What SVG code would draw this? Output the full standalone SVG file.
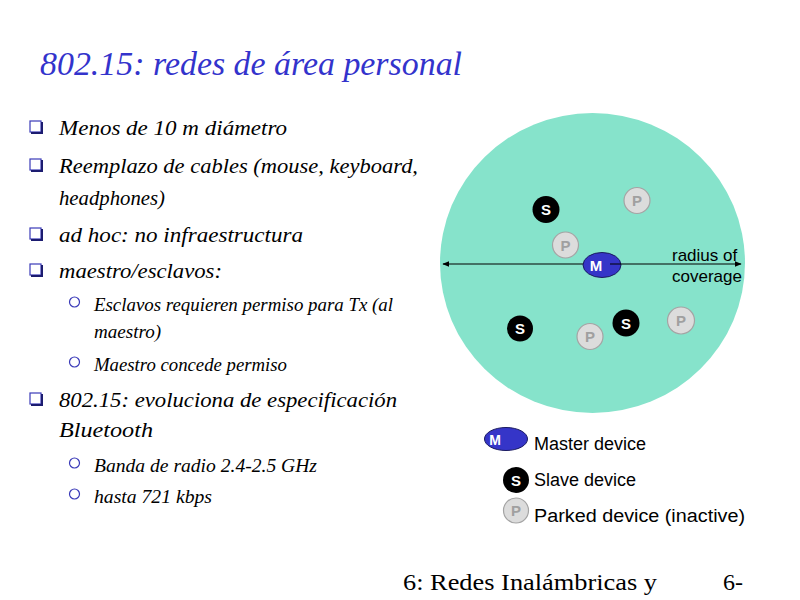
<svg xmlns="http://www.w3.org/2000/svg" width="800" height="600" viewBox="0 0 800 600">
<style>
.title{font-family:"Liberation Serif",serif;font-style:italic;font-size:33px;fill:#3333cc}
.b1{font-family:"Liberation Serif",serif;font-style:italic;font-size:22px;fill:#000}
.b2{font-family:"Liberation Serif",serif;font-style:italic;font-size:18px;fill:#000}
.foot{font-family:"Liberation Serif",serif;font-size:24px;fill:#000}
.lab{font-family:"Liberation Sans",Arial,sans-serif;font-size:17px;fill:#000}
.leg{font-family:"Liberation Sans",Arial,sans-serif;font-size:18px;fill:#000}
.sq{fill:#fff;stroke:#3a3ab8;stroke-width:1.2}
.sqs{fill:none;stroke:#1c1c70;stroke-width:2}
.ci{fill:#fff;stroke:#3a3ab8;stroke-width:1.2}
.m{fill:#3535c8;stroke:#1a1a60;stroke-width:1}
.s{fill:#000}
.p{fill:#dcdcdc;stroke:#a4a4a4;stroke-width:1.2}
.ml{font-family:"Liberation Sans",Arial,sans-serif;font-weight:bold;font-size:15px;fill:#fff;text-anchor:middle}
.sl{font-family:"Liberation Sans",Arial,sans-serif;font-weight:bold;font-size:15px;fill:#fff;text-anchor:middle}
.pl{font-family:"Liberation Sans",Arial,sans-serif;font-weight:bold;font-size:15px;fill:#a0a0a0;text-anchor:middle}
</style>
<defs>
<marker id="ah" viewBox="0 0 10 10" refX="9" refY="5" markerWidth="7" markerHeight="7" orient="auto-start-reverse" markerUnits="userSpaceOnUse">
<path d="M0,1 L10,5 L0,9 z" fill="#000"/>
</marker>
<g id="sqb"><rect class="sq" x="0" y="0" width="11" height="11"/><polyline class="sqs" points="12,1 12,12 1,12"/></g>
</defs>
<rect width="800" height="600" fill="#fff"/>

<text class="title" x="40" y="75" textLength="422" lengthAdjust="spacingAndGlyphs">802.15: redes de área personal</text>

<g id="bullets">
<use href="#sqb" x="30" y="121"/>
<text class="b1" x="59" y="135" textLength="228" lengthAdjust="spacingAndGlyphs">Menos de 10 m diámetro</text>
<use href="#sqb" x="30" y="159"/>
<text class="b1" x="59" y="173" textLength="359" lengthAdjust="spacingAndGlyphs">Reemplazo de cables (mouse, keyboard,</text>
<text class="b1" x="59" y="205" textLength="106" lengthAdjust="spacingAndGlyphs">headphones)</text>
<use href="#sqb" x="30" y="228"/>
<text class="b1" x="59" y="242" textLength="244" lengthAdjust="spacingAndGlyphs">ad hoc: no infraestructura</text>
<use href="#sqb" x="30" y="264"/>
<text class="b1" x="59" y="278" textLength="163" lengthAdjust="spacingAndGlyphs">maestro/esclavos:</text>
<circle class="ci" cx="74.5" cy="302" r="5"/>
<text class="b2" x="94" y="311" textLength="299" lengthAdjust="spacingAndGlyphs">Esclavos requieren permiso para Tx (al</text>
<text class="b2" x="94" y="338" textLength="67" lengthAdjust="spacingAndGlyphs">maestro)</text>
<circle class="ci" cx="74.5" cy="362" r="5"/>
<text class="b2" x="94" y="371" textLength="193" lengthAdjust="spacingAndGlyphs">Maestro concede permiso</text>
<use href="#sqb" x="30" y="393"/>
<text class="b1" x="59" y="407" textLength="338" lengthAdjust="spacingAndGlyphs">802.15: evoluciona de especificación</text>
<text class="b1" x="59" y="437" textLength="94" lengthAdjust="spacingAndGlyphs">Bluetooth</text>
<circle class="ci" cx="74.5" cy="463" r="5"/>
<text class="b2" x="94" y="472" textLength="223" lengthAdjust="spacingAndGlyphs">Banda de radio 2.4-2.5 GHz</text>
<circle class="ci" cx="74.5" cy="494" r="5"/>
<text class="b2" x="94" y="503" textLength="118" lengthAdjust="spacingAndGlyphs">hasta 721 kbps</text>
</g>

<g id="coverage">
<ellipse cx="592.5" cy="263" rx="152.5" ry="150" fill="#86e3cb"/>
</g>

<g id="connectors">
<line x1="443" y1="264" x2="583" y2="264" stroke="#000" stroke-width="1.2" marker-start="url(#ah)"/>
</g>

<g id="master">
<ellipse class="m" cx="602" cy="265" rx="19" ry="12.5"/>
<text class="ml" x="596" y="271">M</text>
</g>
<g id="connectors-radius">
<line x1="610" y1="264" x2="741" y2="264" stroke="#000" stroke-width="1.2" marker-end="url(#ah)"/>
</g>

<g id="s1"><circle class="s" cx="546" cy="209.5" r="13.5"/><text class="sl" x="546" y="215">S</text></g>
<g id="s2"><circle class="s" cx="520" cy="328.5" r="13"/><text class="sl" x="520" y="334">S</text></g>
<g id="s3"><circle class="s" cx="626" cy="323" r="13.5"/><text class="sl" x="626" y="328.5">S</text></g>
<g id="p1"><circle class="p" cx="637" cy="200.5" r="13"/><text class="pl" x="637" y="206">P</text></g>
<g id="p2"><circle class="p" cx="565.5" cy="245" r="13"/><text class="pl" x="565.5" y="250.5">P</text></g>
<g id="p3"><circle class="p" cx="590" cy="336.5" r="13"/><text class="pl" x="590" y="342">P</text></g>
<g id="p4"><circle class="p" cx="681" cy="320.5" r="13.5"/><text class="pl" x="681" y="326">P</text></g>

<g id="radius-label">
<text class="lab" x="672" y="261">radius of</text>
<text class="lab" x="672" y="282">coverage</text>
</g>

<g id="legend">
<ellipse class="m" cx="506" cy="439" rx="21.5" ry="11.5"/>
<text class="ml" x="495" y="445" style="font-size:14px">M</text>
<text class="leg" x="534" y="450">Master device</text>
<circle class="s" cx="516" cy="480" r="13"/>
<text class="sl" x="516" y="485.5">S</text>
<text class="leg" x="534" y="486">Slave device</text>
<circle class="p" cx="516" cy="510.5" r="12.5"/>
<text class="pl" x="516" y="516">P</text>
<text class="leg" x="534" y="522" textLength="211" lengthAdjust="spacingAndGlyphs">Parked device (inactive)</text>
</g>

<g id="footer">
<text class="foot" x="403" y="590" textLength="254" lengthAdjust="spacingAndGlyphs">6: Redes Inalámbricas y</text>
<text class="foot" x="723" y="590">6-</text>
</g>
</svg>
